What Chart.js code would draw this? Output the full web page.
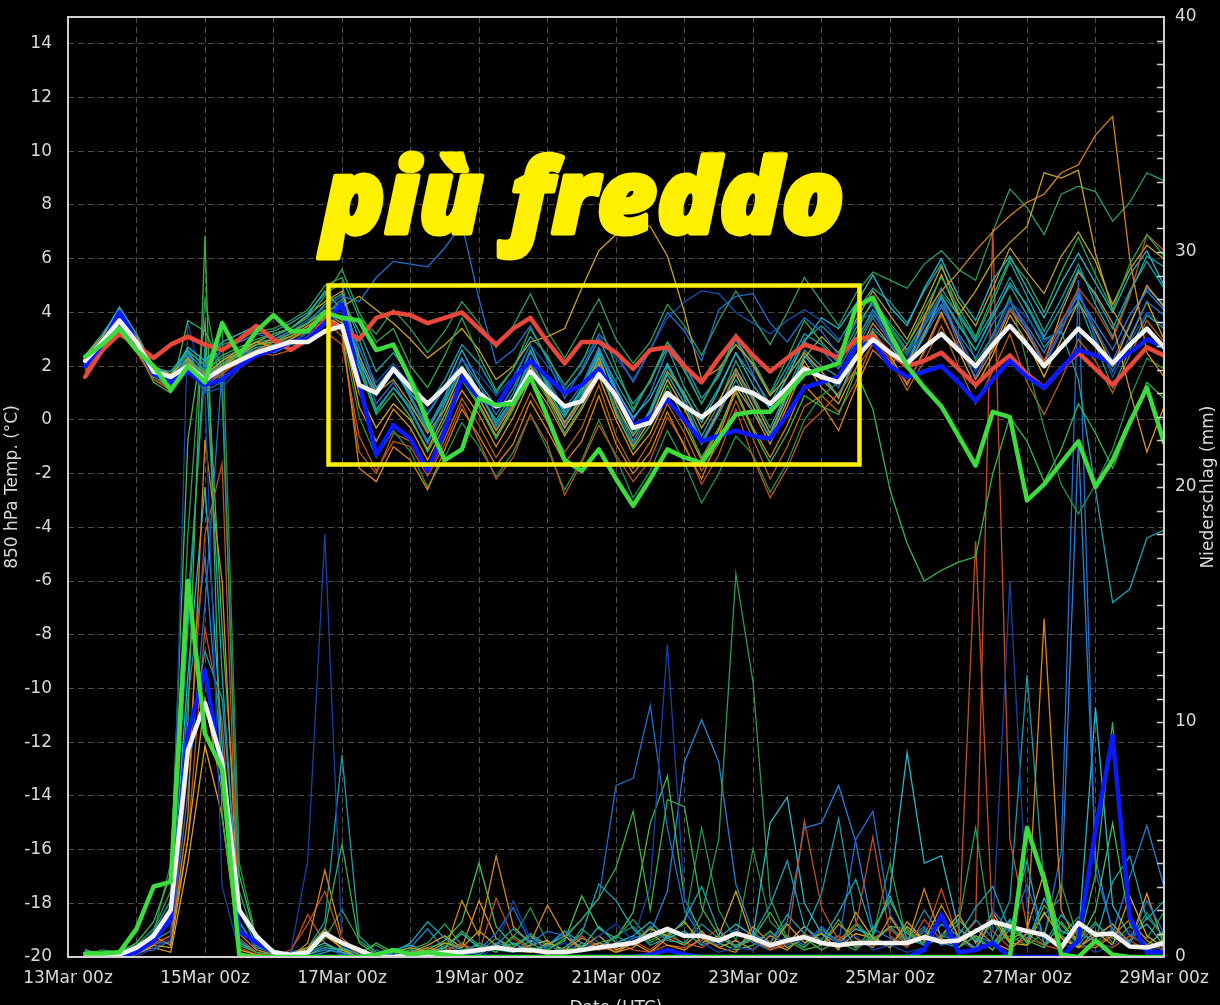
<!DOCTYPE html>
<html><head><meta charset="utf-8">
<script src="https://cdn.jsdelivr.net/npm/chart.js@4.4.1/dist/chart.umd.min.js"></script>
<style>html,body{margin:0;padding:0;background:#000;overflow:hidden}canvas{display:block}</style>
</head><body>
<canvas id="c" width="1220" height="1005"></canvas>
<script>
// ---- categories: forecast hours from 13Mar 00z, 6-hourly ----
const hours = [0,6,12,18,24,30,36,42,48,54,60,66,72,78,84,90,96,102,108,114,120,126,132,138,144,150,156,162,168,174,180,186,192,198,204,210,216,222,228,234,240,246,252,258,264,270,276,282,288,294,300,306,312,318,324,330,336,342,348,354,360,366,372,378,384];
const tickLabels = ['13Mar 00z','15Mar 00z','17Mar 00z','19Mar 00z','21Mar 00z','23Mar 00z','25Mar 00z','27Mar 00z','29Mar 00z'];
const yTitle = '850 hPa Temp. (°C)';
const y2Title = 'Niederschlag (mm)';
const xTitle = 'Date (UTC)';
const overlayText = 'più freddo';

// ---- highlighted series: 850 hPa temperature (°C) ----
const tempMean = [null, 2.2,2.9,3.7, 2.9,1.8,1.6,2.0, 1.5,1.9,2.2,2.5, 2.7,2.9,2.9,3.3, 3.5,1.3,1.0,1.9, 1.2,0.6,1.2,1.9, 1.0,0.5,0.7,1.8, 1.1,0.5,0.7,1.7, 0.9,-0.3,-0.1,1.0, 0.5,0.1,0.6,1.2, 1.0,0.6,1.2,1.9, 1.6,1.4,2.3,3.0, 2.5,2.1,2.7,3.2, 2.6,2.0,2.8,3.5, 2.8,2.0,2.7,3.4, 2.8,2.1,2.8,3.4, 2.7];
const tempOper = [null, 2.0,2.8,4.0, 2.9,1.7,1.4,1.8, 1.3,1.5,2.0,2.4, 2.6,2.9,3.0,3.6, 4.3,1.4,-1.3,-0.2, -0.7,-1.9,-0.4,1.6, 0.8,0.5,1.5,2.2, 1.6,1.0,1.3,1.9, 0.9,-0.2,0.1,0.75, 0.0,-0.8,-0.6,-0.4, -0.6,-0.7,0.2,1.2, 1.4,1.6,2.7,2.9, 2.0,1.6,1.8,2.0, 1.4,0.7,1.5,2.2, 1.6,1.2,1.9,2.6, 2.4,2.1,2.5,3.0, 2.7];
const tempRed = [null, 1.6,2.6,3.2, 2.8,2.3,2.8,3.1, 2.8,2.6,3.0,3.5, 3.0,2.6,3.0,3.7, 3.4,3.0,3.8,4.0, 3.9,3.6,3.8,4.0, 3.4,2.8,3.4,3.8, 2.9,2.1,2.9,2.9, 2.5,1.9,2.6,2.7, 2.0,1.4,2.3,3.1, 2.4,1.8,2.3,2.8, 2.6,2.3,3.0,3.1, 2.5,2.0,2.2,2.5, 1.9,1.3,1.9,2.4, 1.7,1.2,1.9,2.5, 1.9,1.3,2.0,2.7, 2.4];
const tempCtrl = [null, 2.35,2.8,3.4, 2.6,2.0,1.1,2.0, 1.4,3.6,2.4,3.3, 3.9,3.3,3.3,4.0, 3.8,3.7,2.6,2.8, 1.5,-0.1,-1.5,-1.1, 0.8,0.55,0.6,1.6, 0.1,-1.5,-1.9,-1.1, -2.2,-3.2,-2.2,-1.1, -1.4,-1.6,-0.7,0.2, 0.3,0.3,1.0,1.7, 1.9,2.1,4.2,4.55, 3.2,2.0,1.2,0.5, -0.6,-1.7,0.3,0.1, -3.0,-2.4,-1.6,-0.8, -2.5,-1.5,-0.1,1.2, -0.85];

// ---- highlighted series: precipitation (mm) ----
const precMean = [null, 0.0,0.0,0.1, 0.4,0.9,2.0,8.8, 10.8,8.3,2.0,0.9, 0.2,0.1,0.2,1.0, 0.6,0.3,0.0,0.0, 0.1,0.1,0.2,0.2, 0.3,0.4,0.3,0.3, 0.2,0.2,0.3,0.4, 0.5,0.6,0.9,1.2, 0.9,0.9,0.7,1.0, 0.8,0.5,0.7,0.85, 0.6,0.5,0.6,0.6, 0.6,0.6,0.85,0.65, 0.7,1.1,1.5,1.3, 1.1,0.95,0.4,1.45, 0.95,1.0,0.45,0.4, 0.6];
const precOper = [null, 0.0,0.0,0.0, 0.2,0.7,1.6,9.5, 12.2,7.8,1.1,0.6, 0.2,0.0,0.0,0.0, 0.0,0.0,0.0,0.0, 0.0,0.0,0.0,0.0, 0.0,0.0,0.0,0.0, 0.0,0.0,0.0,0.0, 0.0,0.0,0.1,0.3, 0.1,0.0,0.0,0.0, 0.0,0.0,0.0,0.0, 0.0,0.0,0.0,0.0, 0.0,0.0,0.3,1.8, 0.2,0.3,0.6,0.0, 0.0,0.0,0.0,0.7, 5.4,9.4,1.7,0.2, 0.2];
const precCtrl = [null, 0.15,0.15,0.2, 1.2,3.0,3.2,16.0, 9.5,8.0,0.1,0.0, 0.0,0.0,0.0,0.0, 0.0,0.0,0.1,0.3, 0.1,0.2,0.1,0.0, 0.0,0.0,0.0,0.0, 0.0,0.0,0.0,0.0, 0.0,0.0,0.0,0.0, 0.0,0.0,0.0,0.0, 0.0,0.0,0.0,0.0, 0.0,0.0,0.0,0.0, 0.0,0.0,0.0,0.0, 0.0,0.0,0.0,0.0, 5.5,3.3,0.1,0.0, 0.7,0.1,0.0,0.0, 0.0];

// ---- ensemble members: temperature (°C) ----
const tm01 = [null, 2.0,2.8,3.6, 2.7,1.6,1.3,2.2, 1.8,2.4,2.7,3.0, 3.2,3.4,3.8,4.6, 5.6,4.0,2.9,3.4, 2.0,1.2,2.4,3.8, 2.4,1.1,1.9,3.4, 2.3,1.3,2.1,3.6, 2.0,0.4,1.5,2.9, 1.8,0.6,1.7,3.2, 2.2,1.0,2.3,3.7, 2.9,2.2,3.4,4.4, 3.6,2.8,4.1,5.3, 4.2,3.1,4.6,6.0, 5.2,4.0,5.5,6.8, 5.4,4.1,5.8,6.9, 6.1];
const tm02 = [null, 2.3,3.0,3.9, 3.0,1.9,1.8,2.6, 1.2,1.6,2.0,2.4, 2.6,2.8,3.1,3.7, 4.4,2.2,0.3,1.2, 0.4,-0.8,0.6,2.0, 1.1,-0.2,0.8,2.3, 1.4,0.2,1.0,2.6, 0.9,-0.5,0.3,1.7, 0.6,-0.9,0.2,1.5, 0.3,-0.6,0.9,2.4, 1.6,0.9,2.2,3.4, 2.8,2.0,3.1,4.6, 3.5,2.6,3.8,5.1, 4.3,3.1,4.2,5.6, 4.6,3.4,4.8,5.9, 4.9];
const tm03 = [null, 2.1,2.9,3.8, 2.8,1.7,1.5,2.4, 1.9,2.6,2.9,3.2, 3.0,3.3,3.7,4.2, 4.6,4.4,5.3,5.9, 5.8,5.7,6.4,7.3, 4.5,2.1,2.6,3.5, 2.2,0.8,1.9,3.2, 2.5,1.4,2.6,4.0, 3.3,2.2,4.1,4.6, 4.7,3.6,2.9,3.8, 3.3,2.4,3.6,4.3, 3.1,2.2,3.5,4.5, 2.8,1.6,2.8,4.2, 3.4,2.0,3.3,4.8, 3.0,1.8,3.1,4.4, 3.9];
const tm04 = [null, 1.8,2.5,3.3, 2.6,1.8,1.6,2.1, 1.4,1.9,2.3,2.6, 2.9,3.1,3.5,3.9, 3.4,-1.8,-2.3,-1.0, -1.5,-2.6,-1.1,0.4, -0.6,-1.7,-0.9,0.7, -0.4,-1.6,-0.8,0.9, -0.9,-2.0,-1.2,0.3, -1.0,-2.2,-0.6,1.1, -0.3,-1.4,-0.2,1.3, 0.6,-0.4,1.2,2.6, 2.0,2.8,3.9,4.8, 5.5,6.3,7.0,7.6, 8.1,8.4,9.2,9.5, 10.6,11.3,6.0,2.5, 1.6];
const tm05 = [null, 2.4,3.1,3.9, 3.1,2.0,1.7,2.3, 1.7,2.2,2.6,2.9, 2.7,3.0,3.4,3.8, 4.2,4.6,4.1,3.6, 3.0,2.3,2.8,3.4, 2.6,1.5,2.0,2.9, 3.1,3.4,4.9,6.3, 6.9,7.4,7.2,6.1, 4.0,1.5,1.9,2.8, 2.1,0.9,1.6,2.5, 1.8,0.8,2.4,3.2, 2.5,1.9,3.8,5.4, 3.9,4.8,5.9,6.6, 7.2,9.2,9.0,9.3, 6.2,4.1,3.0,4.4, 3.0];
const tm06 = [null, 1.9,2.6,3.3, 2.5,1.5,1.1,1.9, 1.2,1.8,2.1,2.5, 2.4,2.6,2.9,3.3, 2.8,-0.6,-1.9,-0.8, -1.0,-2.1,-0.9,0.6, -0.8,-2.2,-1.4,0.2, -0.9,-2.8,-1.6,-0.2, -1.3,-2.3,-1.5,0.1, -0.9,-2.4,-1.3,0.4, -1.4,-2.9,-1.8,-0.3, 0.3,1.0,1.9,2.8, 2.2,1.4,2.5,3.9, 2.7,1.6,2.9,4.1, 3.4,2.2,3.6,4.9, 4.1,3.0,4.6,6.9, 6.3];
const tm07 = [null, 2.2,2.9,3.7, 2.9,1.9,1.7,2.5, 2.1,2.8,3.0,3.3, 3.4,3.7,4.1,5.0, 5.3,3.8,3.2,4.1, 3.4,2.5,3.3,4.4, 3.6,2.7,3.5,4.7, 3.3,2.3,3.4,4.5, 3.0,2.1,2.9,4.3, 3.5,2.4,3.7,4.8, 3.8,2.8,4.0,5.3, 4.4,3.5,4.7,5.5, 5.2,4.9,5.8,6.3, 5.6,5.2,7.0,8.6, 7.9,6.9,8.4,8.7, 8.5,7.4,8.1,9.2, 8.9];
const tm08 = [null, 2.0,2.8,3.9, 2.9,1.7,1.4,2.0, 1.0,1.2,1.9,2.6, 2.7,2.9,3.2,3.6, 3.9,2.6,1.4,2.1, 1.3,0.3,1.2,2.2, 1.7,0.9,1.6,2.8, 2.0,1.2,2.2,3.1, 2.3,1.5,2.6,3.8, 4.4,4.8,4.7,4.0, 3.6,3.2,3.7,4.1, 3.7,3.0,3.6,4.0, 3.2,2.4,3.6,4.6, 3.1,1.8,3.0,4.4, 3.8,2.9,3.4,4.9, 3.1,1.6,2.9,4.0, 3.5];
const tm09 = [null, 2.3,3.1,4.2, 3.2,2.0,1.6,2.7, 2.2,2.9,3.2,3.5, 3.1,3.4,3.9,4.8, 4.1,2.2,0.9,1.8, 1.0,0.2,1.2,2.6, 1.4,0.5,1.5,2.8, 1.3,0.3,1.1,2.5, 1.1,0.1,0.8,2.1, 0.9,-0.1,1.1,2.5, 1.3,0.4,1.6,2.9, 3.8,3.4,4.3,5.4, 4.2,3.5,4.9,6.0, 4.6,3.7,5.2,6.1, 4.9,3.8,5.1,6.2, 5.1,4.0,5.4,6.3, 5.0];
const tm10 = [null, 2.1,2.8,3.5, 2.7,1.4,1.0,3.7, 3.3,2.0,2.5,2.8, 2.9,3.2,3.6,4.1, 3.7,1.9,0.2,1.0, 0.1,-1.2,0.0,1.5, 0.5,-0.7,0.4,1.8, 0.8,-0.5,0.5,1.9, 0.3,-1.1,-0.2,1.3, 0.0,-1.4,-0.3,1.0, -0.4,-1.6,-0.5,0.9, 0.5,0.2,1.8,0.4, -2.6,-4.6,-6.0,-5.6, -5.3,-5.1,-2.0,0.1, -0.8,-2.3,-1.1,0.6, -0.5,-1.8,-0.2,1.4, 0.8];
const tm11 = [null, 2.2,3.0,3.8, 2.8,1.8,1.5,2.3, 1.6,2.1,2.4,2.7, 2.8,3.1,3.4,3.9, 4.5,3.3,1.8,2.5, 1.6,0.5,1.5,2.8, 2.1,1.0,1.9,3.1, 2.4,1.1,1.8,3.0, 1.7,0.6,1.4,2.9, 2.1,0.8,1.6,3.0, 2.0,0.9,2.0,3.2, 2.8,2.1,3.2,4.5, 3.5,2.6,3.7,4.9, 3.9,2.9,4.0,5.3, 4.2,3.0,3.3,1.5, -2.6,-6.8,-6.3,-4.4, -4.1];
const tm12 = [null, 1.9,2.7,3.4, 2.6,1.6,1.4,2.2, 1.5,2.0,2.4,2.8, 3.0,3.3,3.6,4.0, 3.6,0.5,-0.8,0.4, -0.3,-1.5,-0.2,1.1, 0.2,-1.0,0.1,1.5, 0.6,-0.6,0.4,1.6, 0.0,-1.3,-0.5,0.9, -0.2,-1.5,-0.4,1.2, 0.3,-0.9,0.5,2.0, 1.5,0.9,2.3,3.6, 2.8,1.9,3.2,4.6, 3.0,1.5,2.6,4.1, 3.2,2.1,4.0,5.5, 4.7,3.6,1.1,-1.2, 0.5];
const tm13 = [null, 2.1,2.9,3.8, 2.8,1.7,1.5,2.4, 1.3,1.8,2.3,2.7, 2.5,2.8,3.3,4.0, 4.3,2.7,1.1,1.9, 0.9,-0.3,0.9,2.3, 1.3,0.2,1.2,2.5, 1.5,0.4,1.3,2.7, 1.2,0.0,1.0,2.6, 1.9,0.6,1.8,3.0, 1.7,0.4,1.6,2.9, 2.6,1.9,3.0,4.0, 3.0,2.1,3.3,4.3, 3.2,2.3,3.6,4.4, 3.5,2.5,3.7,4.6, 3.6,2.6,3.9,4.8, 4.1];
const tm14 = [null, 1.9,2.6,3.5, 2.6,1.5,1.2,2.0, 1.4,2.0,2.3,2.6, 2.7,3.0,3.4,3.8, 3.3,0.1,-1.4,-0.4, -1.2,-2.5,-1.4,-0.1, -1.0,-2.1,-1.2,0.2, -1.1,-2.6,-1.5,0.0, -1.4,-2.9,-1.9,-0.4, -1.6,-3.1,-2.0,-0.6, -1.3,-2.7,-1.6,0.0, 0.9,1.4,2.8,3.9, 3.4,2.5,3.6,4.7, 3.9,2.2,3.1,4.6, 2.1,-0.3,-2.4,-3.5, -2.4,-1.1,0.8,2.3, 1.9];
const tm15 = [null, 2.0,2.8,3.6, 2.7,1.7,1.4,2.2, 1.6,2.2,2.5,2.9, 3.2,3.4,3.9,4.4, 4.8,2.4,1.0,1.5, 0.6,-0.5,0.4,1.8, 0.8,-0.4,0.6,2.0, 1.0,-0.1,0.8,2.3, 0.6,-0.6,0.3,1.8, 1.0,-0.3,0.7,1.9, 0.8,-0.5,1.0,2.3, 3.1,2.5,3.7,4.8, 3.9,3.0,4.3,5.7, 4.4,3.5,4.9,6.4, 5.5,4.7,6.1,7.0, 5.9,4.3,5.6,6.5, 6.0];
const tm16 = [null, 2.4,3.2,4.1, 3.0,1.9,1.7,2.6, 2.0,2.6,2.9,3.2, 3.3,3.6,4.0,4.7, 5.1,2.0,0.4,1.2, 0.5,-0.4,0.7,2.0, 1.0,-0.1,0.8,2.2, 1.1,0.1,1.2,2.6, 1.4,0.3,1.5,2.7, 1.2,0.1,1.2,2.5, 1.6,0.6,1.8,3.0, 3.5,2.9,4.0,4.9, 4.4,3.6,4.8,5.8, 4.0,3.0,4.4,5.9, 4.6,3.3,4.5,5.8, 4.3,3.1,4.7,6.1, 5.7];
const tm17 = [null, 2.0,2.7,3.4, 2.7,1.6,1.2,2.0, 1.3,1.7,2.2,2.6, 2.8,3.0,3.3,3.7, 3.1,-1.2,-2.0,-0.5, -0.8,-2.0,-0.7,0.8, -0.2,-1.4,-0.4,1.0, -0.1,-1.2,-0.3,1.3, -0.6,-1.8,-0.8,0.6, -0.5,-1.9,-0.9,0.7, -0.7,-2.2,-1.0,0.5, 0.9,0.3,1.4,2.9, 2.3,1.1,2.2,3.5, 2.0,0.6,1.8,3.2, 1.4,0.2,1.5,3.0, 2.2,1.0,2.4,3.7, 2.9];
const tm18 = [null, 2.2,3.0,3.8, 2.8,1.8,1.6,2.5, 1.8,2.3,2.6,2.9, 3.0,3.2,3.6,4.3, 4.7,3.0,1.2,2.0, 0.8,-0.4,0.8,2.3, 1.0,0.0,1.0,2.6, 1.2,-0.1,0.9,2.4, 0.6,-0.8,0.4,2.0, 0.8,-0.6,0.6,2.2, 0.9,-0.3,1.1,2.6, 2.0,1.6,2.9,4.1, 3.2,2.4,3.5,4.6, 3.6,2.6,3.9,5.0, 3.9,2.7,3.5,4.4, 2.8,1.2,2.6,3.9, 3.4];
const tm19 = [null, 2.1,2.9,3.6, 2.8,1.7,1.5,2.3, 1.5,2.1,2.5,2.8, 2.9,3.1,3.5,3.9, 3.5,1.0,-0.3,0.6, 0.0,-1.1,0.2,1.6, 0.6,-0.6,0.5,2.0, 0.9,-0.3,0.7,2.1, 0.2,-1.0,0.0,1.5, 0.4,-0.9,0.3,1.7, 0.5,-0.7,0.7,2.2, 1.2,0.6,1.9,3.3, 2.4,1.3,2.6,4.0, 2.6,1.2,2.4,3.9, 2.9,1.6,3.0,4.4, 3.3,2.0,3.5,5.0, 4.2];
const tm20 = [null, 2.0,2.8,3.9, 2.9,1.7,1.4,2.2, 1.1,1.4,2.0,2.6, 2.7,3.0,3.4,3.9, 4.2,2.4,0.6,1.4, 0.3,-0.9,0.4,1.9, 0.8,-0.3,0.7,2.1, 1.0,-0.2,0.8,2.2, 0.4,-0.9,0.2,1.7, 0.6,-0.8,0.4,1.8, 0.7,-0.5,0.9,2.4, 1.8,1.2,2.6,3.8, 2.9,2.0,3.1,4.2, 3.1,1.9,3.2,4.5, 3.3,2.1,3.4,4.7, 3.4,2.2,3.6,4.9, 4.3];

// ---- ensemble members: precipitation (mm) ----
const pm01 = [null, 0.0,0.1,0.2, 0.3,0.8,1.5,10.0, 30.7,6.0,0.5,0.2, 0.1,0.0,0.3,1.2, 4.8,0.6,0.1,0.3, 0.2,0.0,0.4,1.1, 0.5,0.2,0.9,0.4, 0.3,0.8,1.6,2.5, 3.8,6.2,2.0,6.7, 6.4,2.1,0.9,0.4, 0.8,1.9,0.7,0.3, 0.5,1.6,0.4,1.2, 2.4,1.0,0.6,1.8, 0.4,0.9,0.3,1.5, 0.6,2.2,1.4,0.5, 3.5,10.0,1.5,0.3, 0.8];
const pm02 = [null, 0.3,0.1,0.0, 0.2,1.1,2.4,14.0, 26.0,12.0,1.5,0.4, 0.2,0.1,0.0,0.2, 0.4,0.1,0.0,0.2, 0.6,1.5,0.8,0.3, 0.1,0.5,1.2,0.6, 0.2,0.4,1.0,3.1, 2.4,1.2,0.5,0.8, 1.6,3.0,1.1,0.4, 0.9,2.2,4.1,1.3, 0.7,1.9,3.3,1.0, 2.6,0.8,0.5,1.4, 0.9,2.1,3.0,1.1, 4.1,0.5,1.8,1.0, 0.7,3.2,4.3,1.6, 2.4];
const pm03 = [null, 0.0,0.0,0.1, 0.0,0.4,0.8,27.0, 24.0,3.0,0.2,0.0, 0.0,0.2,4.1,18.0, 0.5,0.0,0.0,0.1, 0.2,0.0,0.3,0.1, 0.0,0.4,2.4,0.8, 0.3,0.6,0.2,0.9, 1.4,0.7,3.0,13.3, 2.5,0.6,0.2,0.4, 0.3,1.0,0.5,0.8, 1.1,0.6,0.9,0.3, 0.5,0.2,0.4,1.0, 0.7,0.3,1.2,16.0, 2.1,0.8,0.4,0.6, 0.2,0.5,1.1,0.3, 0.4];
const pm04 = [null, 0.0,0.2,0.1, 0.4,0.9,0.5,6.0, 22.0,16.0,1.0,0.3, 0.1,0.0,0.6,3.7, 0.8,0.2,0.0,0.3, 0.1,0.4,0.2,2.4, 0.9,4.3,1.3,0.6, 2.2,0.9,0.3,0.6, 0.2,0.4,1.0,0.5, 0.3,0.8,0.4,0.2, 1.3,0.6,0.3,0.9, 0.5,1.4,0.8,0.4, 1.7,0.6,2.9,0.8, 0.4,1.2,0.6,0.3, 1.0,14.4,2.0,0.5, 0.4,0.9,1.6,0.7, 0.3];
const pm05 = [null, 0.1,0.0,0.2, 0.3,0.6,0.9,8.0, 18.0,21.0,0.8,0.2, 0.0,0.3,1.4,2.8, 0.6,0.1,0.0,0.0, 0.2,0.1,0.3,0.5, 0.2,2.5,0.8,0.3, 0.1,0.4,0.9,0.3, 0.6,0.3,0.2,0.5, 0.4,0.7,1.2,0.4, 0.8,0.3,0.6,5.8, 2.1,0.7,1.3,5.1, 0.9,0.4,1.6,0.7, 0.6,17.7,1.1,0.4, 0.8,0.5,0.3,1.2, 0.6,0.4,0.9,0.5, 0.3];
const pm06 = [null, 0.2,0.1,0.0, 0.1,0.5,0.4,5.0, 11.0,7.0,1.2,0.5, 0.2,0.1,0.4,1.2, 0.3,0.0,0.1,0.2, 0.4,0.2,0.6,0.4, 1.1,0.5,0.3,0.2, 0.6,0.3,0.8,0.5, 0.2,0.6,1.2,0.9, 1.5,0.6,0.9,2.8, 0.7,0.4,1.4,0.6, 1.0,0.3,1.9,0.8, 0.4,1.5,0.7,2.2, 0.9,0.3,1.7,0.6, 0.5,1.9,0.8,0.4, 1.1,0.5,2.6,0.9, 0.4];
const pm07 = [null, 0.2,0.0,0.3, 0.5,1.2,2.8,18.0, 28.0,24.0,2.8,0.6, 0.3,0.1,0.2,0.8, 2.0,0.7,0.2,0.1, 0.3,0.6,1.4,0.5, 0.2,0.8,0.4,1.0, 0.5,0.2,1.2,0.6, 0.8,1.6,0.7,1.1, 0.5,1.8,5.0,16.3, 11.7,2.5,0.8,0.4, 1.2,0.6,0.3,0.9, 0.4,1.1,0.5,0.8, 1.4,5.5,0.6,0.9, 0.5,1.0,3.1,0.7, 1.5,0.6,1.3,0.8, 1.9];
const pm08 = [null, 0.0,0.1,0.0, 0.2,0.3,0.7,7.0, 15.0,25.0,1.5,0.3, 0.1,0.0,0.2,0.4, 0.1,0.0,0.3,0.0, 0.1,0.2,0.0,0.5, 0.3,1.0,2.1,0.6, 1.1,0.9,1.6,2.5, 7.3,7.6,10.7,5.5, 2.0,0.8,0.5,1.2, 0.6,0.3,0.9,0.5, 1.3,0.6,5.0,6.2, 1.8,0.7,1.3,0.5, 0.9,0.4,2.0,1.1, 3.1,0.8,4.5,28.8, 3.6,1.2,0.6,2.4, 1.0];
const pm09 = [null, 0.1,0.2,0.0, 0.3,0.9,1.8,12.0, 20.0,9.0,0.6,0.2, 0.0,0.1,0.3,0.6, 0.2,0.0,0.1,0.3, 0.5,0.2,0.4,1.0, 0.4,0.3,0.6,0.2, 0.5,0.9,0.4,1.3, 0.6,0.9,1.5,0.8, 1.1,0.5,0.8,1.4, 0.9,5.7,6.8,2.3, 1.0,0.6,1.2,0.9, 2.8,8.7,4.0,4.3, 1.2,0.7,0.5,1.6, 0.6,2.5,1.1,0.8, 10.6,2.2,0.9,1.4, 0.5];
const pm10 = [null, 0.3,0.1,0.2, 0.6,1.5,3.5,22.0, 27.0,14.0,3.5,0.7, 0.2,0.0,0.1,0.4, 0.3,0.1,0.6,0.2, 0.1,0.3,0.7,1.5, 4.0,1.3,0.5,0.9, 0.3,0.7,2.6,1.2, 0.8,1.9,5.7,7.7, 2.5,1.0,0.6,0.3, 0.5,1.1,0.4,0.8, 0.3,0.7,1.4,0.6, 1.3,1.2,0.5,0.9, 1.6,0.8,0.3,1.2, 0.7,0.4,1.5,0.6, 2.0,5.7,1.4,0.5, 1.1];
const pm11 = [null, 0.0,0.2,0.1, 0.4,0.7,1.1,9.0, 13.0,11.0,2.0,0.5, 0.1,0.2,0.4,1.5, 8.6,0.9,0.2,0.1, 0.3,0.1,0.5,0.2, 0.6,0.3,0.2,0.7, 0.4,1.1,0.6,0.3, 0.9,0.5,1.3,0.7, 0.6,1.4,0.8,0.5, 0.9,0.6,1.8,1.0, 2.7,5.9,1.5,0.7, 1.3,0.6,2.0,0.9, 0.7,1.6,0.8,2.4, 12.0,3.0,0.9,0.5, 1.4,0.8,0.6,1.7, 0.9];
const pm12 = [null, 0.1,0.0,0.1, 0.2,0.4,0.2,4.0, 9.0,6.0,0.3,0.1, 0.0,0.1,0.2,0.9, 0.4,0.0,0.1,0.3, 0.2,0.5,0.9,0.4, 2.4,0.8,0.3,0.5, 0.7,0.2,0.4,0.9, 0.3,0.6,0.2,0.8, 0.5,1.1,0.4,0.7, 0.3,0.9,0.6,1.3, 0.6,0.4,1.0,0.8, 0.5,1.3,0.7,0.9, 1.8,0.6,1.9,0.7, 1.2,3.6,0.8,0.4, 0.9,1.4,0.6,2.7, 0.5];
const pm13 = [null, 0.2,0.0,0.1, 0.3,0.6,0.6,11.0, 17.0,8.0,0.7,0.2, 0.0,0.2,0.1,0.3, 0.2,0.1,0.0,0.2, 0.4,1.2,0.3,0.1, 0.2,0.6,0.4,0.9, 0.5,1.1,0.3,0.6, 0.4,0.8,1.0,2.8, 8.3,10.1,8.3,3.1, 1.0,0.6,1.5,5.5, 5.7,7.3,4.9,1.2, 0.8,0.5,1.1,0.6, 0.4,0.9,0.6,1.3, 0.8,1.8,2.5,22.0, 4.2,1.0,3.4,5.6, 3.0];
const pm14 = [null, 0.1,0.3,0.2, 0.4,1.0,4.0,15.0, 25.0,27.0,4.0,0.8, 0.3,0.1,0.2,0.5, 0.3,0.2,0.5,0.1, 0.2,0.4,0.6,0.3, 0.5,0.2,0.8,2.1, 0.6,0.3,0.5,0.4, 0.9,1.3,0.6,1.0, 1.4,5.5,2.0,0.7, 4.6,1.5,0.8,0.4, 1.1,0.7,0.5,0.9, 4.0,0.6,1.2,0.5, 0.8,0.4,1.5,0.6, 1.0,0.5,0.9,1.7, 0.6,1.2,0.7,1.9, 0.8];
const pm15 = [null, 0.0,0.1,0.0, 0.2,0.5,0.9,5.0, 14.0,10.0,0.4,0.1, 0.0,0.2,1.8,0.6, 0.2,0.0,0.0,0.1, 0.1,0.3,0.2,0.6, 0.2,0.4,0.3,0.2, 0.5,0.2,0.6,0.3, 0.4,0.7,0.3,0.9, 0.6,0.4,0.8,0.5, 0.7,0.3,0.5,1.0, 0.6,0.9,0.4,0.8, 1.2,0.5,0.8,2.9, 0.7,1.5,31.0,5.0, 1.3,0.6,0.9,0.4, 0.5,1.0,0.7,0.3, 0.2];

const tempMembers = [tm01,tm02,tm03,tm04,tm05,tm06,tm07,tm08,tm09,tm10,tm11,tm12,tm13,tm14,tm15,tm16,tm17,tm18,tm19,tm20];
const tempColors = ['#2fa84f','#18a5b5','#1f6fd0','#d8841c','#c8a41e','#c4501f','#2e9e5a','#1550b8','#29b6c8','#38b84a','#1e9fae','#e0902a','#2b7fd8','#24934a','#b8a030','#20a39a','#b8621a','#2aa198','#d4a72c','#3a66c4'];
const precMembers = [pm01,pm02,pm03,pm04,pm05,pm06,pm07,pm08,pm09,pm10,pm11,pm12,pm13,pm14,pm15];
const precColors = ['#3cb043','#1aa3b3','#1740a8','#d9861d','#c14e22','#c9a51f','#2d9a57','#1f6fd0','#2bb5c7','#44bd4c','#189aa8','#e39a30','#2680d8','#24934a','#cc4b26'];

const pts = arr => arr.map((v, i) => ({x: hours[i], y: v}));

const datasets = [];
tempMembers.forEach((a, k) => datasets.push({data: pts(a), borderColor: tempColors[k], borderWidth: 1.3, yAxisID: 'y', order: 10}));
precMembers.forEach((a, k) => datasets.push({data: pts(a), borderColor: precColors[k], borderWidth: 1.3, yAxisID: 'y2', order: 10}));
const thick = (a, color, axis, order) => ({data: pts(a), borderColor: color, borderWidth: 4.5, yAxisID: axis, order, borderJoinStyle: 'round', borderCapStyle: 'round'});
datasets.push(thick(tempRed, '#e8473b', 'y', 5));
datasets.push(thick(precOper, '#0a1aff', 'y2', 4));
datasets.push(thick(tempOper, '#0a1aff', 'y', 4));
datasets.push(thick(precMean, '#f2f2f2', 'y2', 3));
datasets.push(thick(tempMean, '#f2f2f2', 'y', 3));
datasets.push(thick(precCtrl, '#3ddc3d', 'y2', 2));
datasets.push(thick(tempCtrl, '#3ddc3d', 'y', 2));

const TXT = '#d9d9d9';
const GRID = '#4d4d4d';
const YEL = '#fff000';
const FONT = {family: 'DejaVu Sans', size: 17};

const overlay = {
  id: 'overlay',
  afterDraw(chart) {
    const ctx = chart.ctx, a = chart.chartArea;
    ctx.save();
    ctx.strokeStyle = '#d0d0d0'; ctx.lineWidth = 2;
    ctx.strokeRect(a.left, a.top, a.right - a.left, a.bottom - a.top);
    const s = chart.scales.y2;
    ctx.lineWidth = 1.5;
    for (let v = 1; v < 40; v++) {
      const py = Math.round(s.getPixelForValue(v)) + 0.5;
      ctx.beginPath(); ctx.moveTo(a.right - 7, py); ctx.lineTo(a.right, py); ctx.stroke();
    }
    ctx.fillStyle = TXT; ctx.font = '17px "DejaVu Sans"';
    ctx.textAlign = 'center'; ctx.textBaseline = 'middle';
    const cy = (a.top + a.bottom) / 2;
    ctx.save(); ctx.translate(13, cy); ctx.rotate(-Math.PI / 2); ctx.fillText(yTitle, 0, 0); ctx.restore();
    ctx.save(); ctx.translate(1209, cy); ctx.rotate(-Math.PI / 2); ctx.fillText(y2Title, 0, 0); ctx.restore();
    ctx.textBaseline = 'alphabetic';
    ctx.fillText(xTitle, (a.left + a.right) / 2, 1013);
    // highlight box
    ctx.strokeStyle = YEL; ctx.lineWidth = 4.5;
    ctx.strokeRect(328.5, 285.5, 531, 179);
    // big label (heavy italic, thickened with a stroke)
    ctx.textAlign = 'left';
    const lw = 5;
    let size = 100;
    ctx.font = `italic 800 ${size}px "Open Sans"`;
    let m = ctx.measureText(overlayText);
    const h0 = m.actualBoundingBoxAscent;
    size = size * (82 - lw / 2) / h0;
    ctx.font = `italic 800 ${size.toFixed(1)}px "Open Sans"`;
    m = ctx.measureText(overlayText);
    const inkW = m.actualBoundingBoxLeft + m.actualBoundingBoxRight + lw;
    ctx.fillStyle = YEL; ctx.strokeStyle = YEL; ctx.lineWidth = lw; ctx.lineJoin = 'round';
    const sx = 528 / inkW;
    const tx = 315 + (lw / 2 + m.actualBoundingBoxLeft) * sx;
    ctx.save();
    ctx.translate(tx, 233);
    ctx.scale(sx, 1);
    ctx.fillText(overlayText, 0, 0);
    ctx.strokeText(overlayText, 0, 0);
    ctx.restore();
    ctx.restore();
  }
};

Chart.defaults.font.family = 'DejaVu Sans';
new Chart(document.getElementById('c'), {
  type: 'line',
  data: {datasets},
  options: {
    responsive: false, animation: false, devicePixelRatio: 1,
    layout: {padding: {top: 17, left: 0, right: 0, bottom: 0}},
    plugins: {legend: {display: false}, tooltip: {enabled: false}},
    elements: {point: {radius: 0}, line: {tension: 0}},
    scales: {
      x: {type: 'linear', min: 0, max: 384,
          afterFit(s) { s.height = 48; s.paddingLeft = 0; s.paddingRight = 0; },
          ticks: {stepSize: 24, autoSkip: false, maxRotation: 0, color: TXT, font: FONT, padding: 11,
                  callback: v => (v % 48 === 0 ? tickLabels[v / 48] : '')},
          grid: {color: GRID, lineWidth: 1, drawTicks: false},
          border: {display: false, dash: [6, 4]}},
      y: {type: 'linear', position: 'left', min: -20, max: 15,
          afterFit(s) { s.width = 68; s.paddingTop = 0; s.paddingBottom = 0; },
          afterBuildTicks(s) { s.ticks = s.ticks.filter(t => t.value <= 14); },
          ticks: {stepSize: 2, color: TXT, font: FONT, padding: 16},
          grid: {color: GRID, lineWidth: 1, drawTicks: false},
          border: {display: false, dash: [6, 4]}},
      y2: {type: 'linear', position: 'right', min: 0, max: 40,
          afterFit(s) { s.width = 56; s.paddingTop = 0; s.paddingBottom = 0; },
          ticks: {stepSize: 10, color: TXT, font: FONT, padding: 11},
          grid: {drawOnChartArea: false, drawTicks: false},
          border: {display: false}}
    }
  },
  plugins: [overlay]
});
</script>
</body></html>
